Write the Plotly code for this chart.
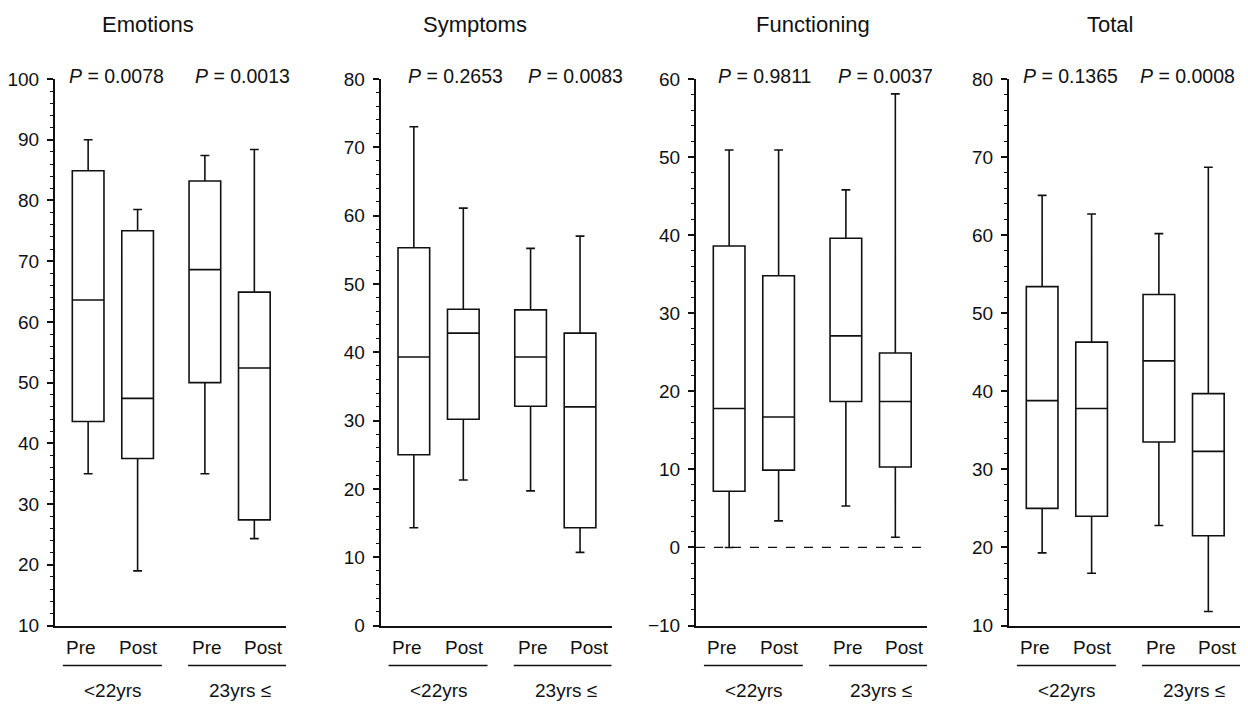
import plotly.graph_objects as go

# ---- data -------------------------------------------------------------
panels = ["Emotions", "Symptoms", "Functioning", "Total"]
conditions = ["Pre", "Post", "Pre", "Post"]
age_groups = ["<22yrs", "23yrs ≤"]
p_values = [["0.0078", "0.0013"],
            ["0.2653", "0.0083"],
            ["0.9811", "0.0037"],
            ["0.1365", "0.0008"]]

# per panel: Pre(<22), Post(<22), Pre(23≤), Post(23≤)
emotions_low = [35.0, 19.0, 35.0, 24.3]
emotions_q1 = [43.6, 37.5, 50.0, 27.4]
emotions_med = [63.6, 47.4, 68.6, 52.4]
emotions_q3 = [84.9, 75.0, 83.2, 64.9]
emotions_high = [90.0, 78.5, 87.4, 88.4]

symptoms_low = [14.3, 21.3, 19.7, 10.7]
symptoms_q1 = [25.0, 30.2, 32.1, 14.3]
symptoms_med = [39.3, 42.8, 39.3, 32.0]
symptoms_q3 = [55.3, 46.3, 46.2, 42.8]
symptoms_high = [73.0, 61.1, 55.2, 57.0]

functioning_low = [0.0, 3.4, 5.3, 1.3]
functioning_q1 = [7.2, 9.9, 18.7, 10.3]
functioning_med = [17.8, 16.7, 27.1, 18.7]
functioning_q3 = [38.6, 34.8, 39.6, 24.9]
functioning_high = [50.9, 50.9, 45.8, 58.1]

total_low = [19.3, 16.7, 22.8, 11.8]
total_q1 = [25.0, 24.0, 33.5, 21.5]
total_med = [38.8, 37.8, 43.9, 32.3]
total_q3 = [53.4, 46.3, 52.4, 39.7]
total_high = [65.1, 62.7, 60.2, 68.7]

stats = [
    (emotions_low, emotions_q1, emotions_med, emotions_q3, emotions_high),
    (symptoms_low, symptoms_q1, symptoms_med, symptoms_q3, symptoms_high),
    (functioning_low, functioning_q1, functioning_med, functioning_q3, functioning_high),
    (total_low, total_q1, total_med, total_q3, total_high),
]
y_ranges = [[10, 100], [0, 80], [-10, 60], [10, 80]]

# ---- layout geometry (pixels) ------------------------------------------
W, H = 1248, 705
AX_LEFT = [55, 380.7, 696, 1009]   # y-axis line of each panel
AX_W = 231                          # width of each plotting area
AX_TOP, AX_BOT = 79, 625.5
X_RANGE = [0.33, 5.0]
box_x = [1, 2, 3.36, 4.36]
label_x = [0.86, 2.02, 3.41, 4.55]
group_x = [1.50, 4.07]
underline_x = [(0.49, 2.49), (3.02, 5.0)]
title_px = [148, 475, 813, 1110]
p_px = [[116, 242], [455, 575.5], [764.5, 885], [1070, 1187.5]]

FONT = "Liberation Sans, Arial, Helvetica, sans-serif"
INK = "#111111"


def px(x):
    return x / W


def py(y):
    return 1 - y / H


fig = go.Figure()
annotations = []
shapes = []

for i, name in enumerate(panels):
    n = i + 1
    xa = "x" if n == 1 else f"x{n}"
    ya = "y" if n == 1 else f"y{n}"
    low, q1, med, q3, high = stats[i]

    fig.add_trace(go.Box(
        x=box_x, lowerfence=low, q1=q1, median=med, q3=q3, upperfence=high,
        width=0.64, whiskerwidth=0.28, boxpoints=False,
        fillcolor="white", line=dict(color=INK, width=1.6),
        xaxis=xa, yaxis=ya, hoverinfo="skip", showlegend=False,
    ))

    x0 = AX_LEFT[i]
    xkey = "xaxis" if n == 1 else f"xaxis{n}"
    ykey = "yaxis" if n == 1 else f"yaxis{n}"
    fig.layout[xkey] = dict(
        domain=[px(x0), px(x0 + AX_W)], range=X_RANGE, anchor=ya,
        showline=True, linecolor=INK, linewidth=2, showgrid=False,
        zeroline=False, showticklabels=False, ticks="", fixedrange=True,
        automargin=False,
    )
    fig.layout[ykey] = dict(
        domain=[py(AX_BOT), py(AX_TOP)], range=y_ranges[i], anchor=xa,
        showline=True, linecolor=INK, linewidth=2, showgrid=False,
        zeroline=False, ticks="outside", ticklen=6, tickwidth=1.5,
        tickcolor=INK, dtick=10, tickfont=dict(family=FONT, size=19, color=INK),
        ticklabelstandoff=4, automargin=False,
        minor=dict(dtick=2, ticks="outside", ticklen=3, tickwidth=1,
                   tickcolor=INK, showgrid=False),
        fixedrange=True,
    )

    # panel title
    annotations.append(dict(
        text=name, x=px(title_px[i]), y=py(24), xref="paper", yref="paper",
        showarrow=False, xanchor="center", yanchor="middle",
        font=dict(family=FONT, size=22, color=INK),
    ))
    # P values
    for k in range(2):
        annotations.append(dict(
            text=f"<i>P</i> = {p_values[i][k]}", x=px(p_px[i][k]), y=py(76),
            xref="paper", yref="paper", showarrow=False,
            xanchor="center", yanchor="middle",
            font=dict(family=FONT, size=19.5, color=INK),
        ))
    # Pre / Post labels
    for k, lab in enumerate(conditions):
        annotations.append(dict(
            text=lab, x=label_x[k], y=py(647), xref=xa, yref="paper",
            showarrow=False, xanchor="center", yanchor="middle",
            font=dict(family=FONT, size=19, color=INK),
        ))
    # age groups with underline
    for g, lab in enumerate(age_groups):
        annotations.append(dict(
            text=lab, x=group_x[g], y=py(690), xref=xa, yref="paper",
            showarrow=False, xanchor="center", yanchor="middle",
            font=dict(family=FONT, size=19, color=INK),
        ))
        ux0, ux1 = underline_x[g]
        shapes.append(dict(
            type="line", xref=xa, yref="paper", x0=ux0, x1=ux1,
            y0=py(665.5), y1=py(665.5), line=dict(color=INK, width=1.5),
        ))

# dashed reference at zero in the Functioning panel
shapes.append(dict(
    type="line", xref="x3", yref="y3", x0=X_RANGE[0], x1=X_RANGE[1],
    y0=0, y1=0, line=dict(color=INK, width=1.3, dash="dash"), layer="below",
))

fig.update_layout(
    width=W, height=H,
    margin=dict(l=0, r=0, t=0, b=0, pad=0, autoexpand=False),
    paper_bgcolor="white", plot_bgcolor="white",
    annotations=annotations, shapes=shapes, showlegend=False,
)

fig.write_html("out.html", config={"displayModeBar": False})
